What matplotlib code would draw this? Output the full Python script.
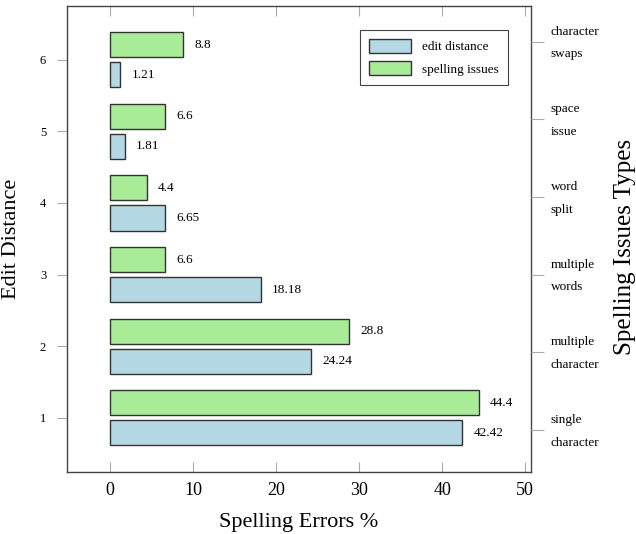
import numpy as np
import matplotlib
matplotlib.use("Agg")
import matplotlib.pyplot as plt
import matplotlib.transforms as mtransforms

plt.rcParams['font.family'] = ['Liberation Serif', 'DejaVu Serif']

distances = [1, 2, 3, 4, 5, 6]
edit_distance = [42.42, 24.24, 18.18, 6.65, 1.81, 1.21]
spelling_issues = [44.4, 28.8, 6.6, 4.4, 6.6, 8.8]
issue_types = ["single\ncharacter", "multiple\ncharacter", "multiple\nwords",
               "word\nsplit", "space\nissue", "character\nswaps"]
x_ticks = [0, 10, 20, 30, 40, 50]

blue = "#b4d8e4"
green = "#a8ec98"
edge = "#333333"
tick_gray = "#aaaaaa"

fig = plt.figure(figsize=(6.36, 5.34), dpi=100)
ax = fig.add_axes([0.1053, 0.1161, 0.7297, 0.8727])

y = np.array(distances, dtype=float)
h = 0.35
off = 0.21
b1 = ax.barh(y - off, edit_distance, height=h, color=blue, edgecolor=edge, lw=1,
             label="edit distance")
b2 = ax.barh(y + off, spelling_issues, height=h, color=green, edgecolor=edge, lw=1,
             label="spelling issues")
for bars, vals in ((b1, edit_distance), (b2, spelling_issues)):
    ax.bar_label(bars, labels=[f"{v:g}" for v in vals], padding=8, fontsize=9.5)

ax.set_xlim(-5.2, 50.7)
ax.set_ylim(0.245, 6.75)
ax.set_xticks(x_ticks)
ax.set_yticks(distances)
ax.tick_params(axis='x', direction='in', length=7, color=tick_gray, top=True,
               labelsize=13, pad=7)
ax.tick_params(axis='y', direction='out', length=7, color=tick_gray, right=True,
               labelsize=9, pad=8)
for s in ax.spines.values():
    s.set_color("#444444")
    s.set_linewidth(1)

ax.set_xlabel("Spelling Errors %", fontsize=16, labelpad=10)
ax.set_ylabel("Edit Distance", fontsize=16)
ax.yaxis.set_label_coords(-0.1, 0.5)

ax2 = ax.twinx()
ax2.set_ylim(0.46, 6.46)
ax2.set_yticks(distances)
ax2.set_yticklabels(issue_types, fontsize=9.5, linespacing=2.2)
ax2.tick_params(axis='y', direction='out', length=9, color=tick_gray, pad=5)
shift = mtransforms.ScaledTranslation(0, 4 / 72, fig.dpi_scale_trans)
for lab in ax2.get_yticklabels():
    lab.set_transform(lab.get_transform() + shift)
for s in ax2.spines.values():
    s.set_visible(False)
ax2.set_ylabel("Spelling Issues Types", fontsize=18)
ax2.yaxis.set_label_coords(1.178, 0.483)

leg = ax.legend(loc='upper right', bbox_to_anchor=(0.950, 0.9485), fontsize=9.5,
                borderaxespad=0, fancybox=False, framealpha=1, edgecolor="#444444",
                handlelength=3.2, handleheight=1.2, borderpad=0.7, labelspacing=0.6)
leg.get_frame().set_linewidth(0.8)

fig.savefig("out.png", dpi=100)
